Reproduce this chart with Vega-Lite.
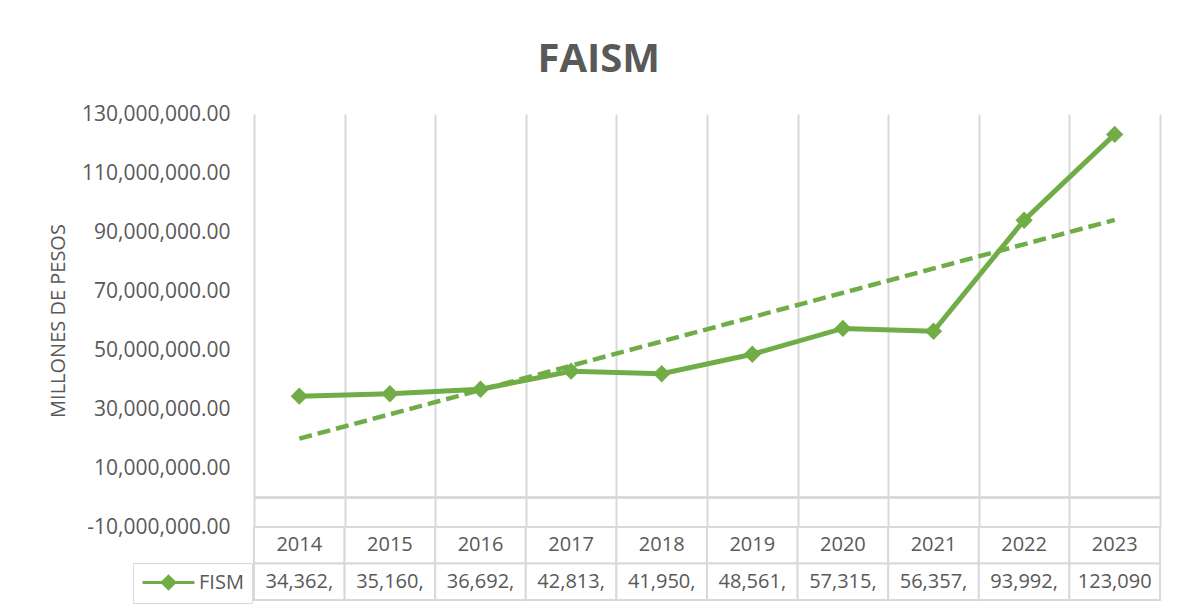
{
  "$schema": "https://vega.github.io/schema/vega-lite/v6.json",
  "autosize": "none",
  "padding": {"left": 254, "top": 114, "right": 923, "bottom": 494},
  "background": "white",
  "title": {
    "text": "FAISM",
    "font": "Open Sans",
    "fontSize": 40,
    "fontWeight": "bold",
    "color": "#595959",
    "anchor": "middle",
    "dx": -6,
    "offset": 23
  },
  "datasets": {
    "fism": [
      {"year": 2014, "value": 34362000},
      {"year": 2015, "value": 35160000},
      {"year": 2016, "value": 36692000},
      {"year": 2017, "value": 42813000},
      {"year": 2018, "value": 41950000},
      {"year": 2019, "value": 48561000},
      {"year": 2020, "value": 57315000},
      {"year": 2021, "value": 56357000},
      {"year": 2022, "value": 93992000},
      {"year": 2023, "value": 123090000}
    ]
  },
  "spacing": 0,
  "bounds": "flush",
  "vconcat": [
    {
      "width": 906,
      "height": 413,
      "data": {"name": "fism"},
      "encoding": {
        "x": {
          "field": "year",
          "type": "ordinal",
          "bandPosition": 0.5,
          "scale": {"type": "band", "paddingInner": 0, "paddingOuter": 0},
          "axis": {
            "orient": "bottom",
            "labels": false,
            "ticks": false,
            "domain": false,
            "title": null,
            "grid": true,
            "tickBand": "extent",
            "gridColor": "#d9d9d9",
            "gridWidth": 2
          }
        }
      },
      "layer": [
        {
          "mark": {"type": "rule", "color": "#d9d9d9", "strokeWidth": 2},
          "encoding": {"x": null, "y": {"datum": 0, "type": "quantitative"}}
        },
        {
          "transform": [{"regression": "value", "on": "year"}],
          "mark": {"type": "line", "color": "#70AD47", "strokeWidth": 4.5, "strokeDash": [13, 6]},
          "encoding": {
            "x": {"field": "year", "type": "ordinal", "bandPosition": 0.5},
            "y": {"field": "value", "type": "quantitative"}
          }
        },
        {
          "mark": {"type": "line", "strokeWidth": 5},
          "encoding": {
            "y": {
              "field": "value",
              "type": "quantitative",
              "title": "MILLONES DE PESOS",
              "scale": {"domain": [-10000000, 130000000], "nice": false, "zero": false},
              "axis": {
                "values": [-10000000, 10000000, 30000000, 50000000, 70000000, 90000000, 110000000, 130000000],
                "format": ",.2f",
                "grid": false,
                "domain": false,
                "ticks": false,
                "labelPadding": 24,
                "labelFontSize": 21,
                "labelColor": "#595959",
                "labelFont": "Open Sans",
                "titleFont": "Open Sans",
                "titleFontSize": 20,
                "titleFontWeight": "normal",
                "titleColor": "#595959",
                "titlePadding": 13
              }
            },
            "color": {
              "datum": "FISM",
              "type": "nominal",
              "scale": {"range": ["#70AD47"]},
              "legend": {
                "orient": "none",
                "legendX": -121,
                "legendY": 449,
                "title": null,
                "symbolType": "M-2.6,0L2.6,0M0,-0.62L0.62,0L0,0.62L-0.62,0Z",
                "symbolSize": 400,
                "symbolStrokeWidth": 3,
                "symbolFillColor": "#70AD47",
                "symbolStrokeColor": "#70AD47",
                "symbolOffset": 16,
                "labelFontSize": 20,
                "labelFont": "Open Sans",
                "labelColor": "#595959",
                "labelOffset": 19,
                "padding": 8,
                "strokeColor": "#d9d9d9"
              }
            }
          }
        },
        {
          "mark": {"type": "point", "shape": "diamond", "filled": true, "size": 300, "color": "#70AD47", "opacity": 1},
          "encoding": {
            "y": {"field": "value", "type": "quantitative"}
          }
        }
      ]
    },
    {
      "width": 906,
      "height": 73,
      "data": {"name": "fism"},
      "encoding": {
        "x": {
          "field": "year",
          "type": "ordinal",
          "scale": {"type": "band", "paddingInner": 0, "paddingOuter": 0},
          "axis": null
        }
      },
      "layer": [
        {
          "mark": {"type": "rect", "fill": "white", "stroke": "#d9d9d9", "strokeWidth": 2},
          "encoding": {
            "y": {
              "datum": "Año",
              "type": "nominal",
              "scale": {"type": "band", "domain": ["Año", "FISM"], "paddingInner": 0, "paddingOuter": 0},
              "axis": null
            }
          }
        },
        {
          "mark": {"type": "rect", "fill": "white", "stroke": "#d9d9d9", "strokeWidth": 2},
          "encoding": {"y": {"datum": "FISM", "type": "nominal"}}
        },
        {
          "mark": {"type": "text", "fontSize": 20, "font": "Open Sans", "color": "#595959", "baseline": "middle"},
          "encoding": {
            "x": {"field": "year", "type": "ordinal", "bandPosition": 0.5},
            "y": {"datum": "Año", "type": "nominal", "bandPosition": 0.5},
            "text": {"field": "year", "type": "ordinal"}
          }
        },
        {
          "mark": {"type": "text", "fontSize": 20, "font": "Open Sans", "color": "#595959", "baseline": "middle", "limit": 78, "ellipsis": "\u200b"},
          "encoding": {
            "x": {"field": "year", "type": "ordinal", "bandPosition": 0.5},
            "y": {"datum": "FISM", "type": "nominal", "bandPosition": 0.5},
            "text": {"field": "value", "type": "quantitative", "format": ",.2f"}
          }
        }
      ]
    }
  ],
  "config": {
    "font": "Open Sans",
    "view": {"stroke": null},
    "locale": {
      "number": {"decimal": ".", "thousands": ",", "grouping": [3], "currency": ["$", ""], "minus": "-"}
    }
  }
}
